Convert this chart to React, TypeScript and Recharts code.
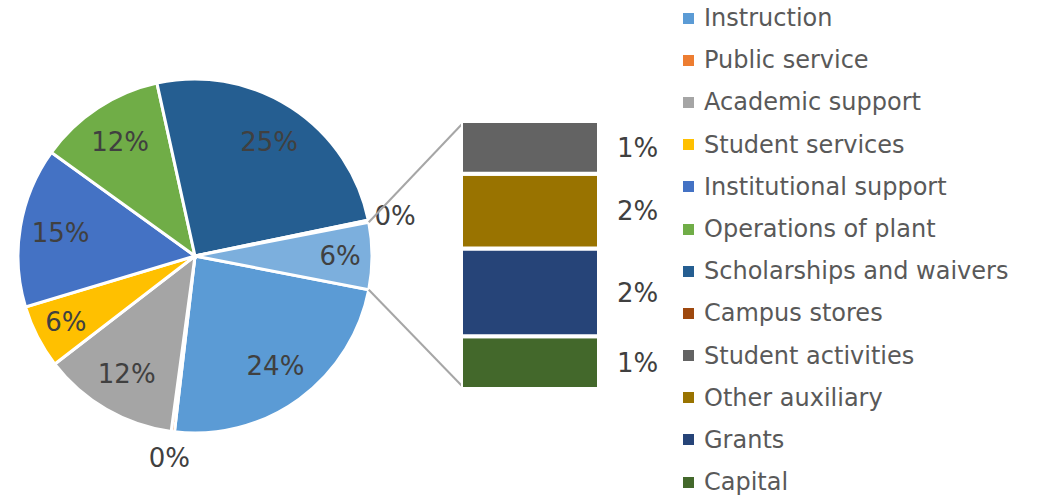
import { PieChart, Pie, Cell, BarChart, Bar, XAxis, YAxis, LabelList, Legend } from "recharts";

// pie slices (clockwise, starting just below 3 o'clock)
const pieCategories = [
  "Instruction",
  "Public service",
  "Academic support",
  "Student services",
  "Institutional support",
  "Operations of plant",
  "Scholarships and waivers",
  "Campus stores",
];
const pieValues = [23.8, 0.3, 12.4, 5.8, 14.6, 11.6, 25.2, 0.2];
const pieColors = ["#5B9BD5", "#ED7D31", "#A5A5A5", "#FFC000", "#4472C4", "#70AD47", "#255E91", "#9E480E"];

// broken out into the bar on the right (top to bottom)
const otherCategories = ["Student activities", "Other auxiliary", "Grants", "Capital"];
const otherValues = [1.2, 1.7, 2.0, 1.2];
const otherColors = ["#636363", "#997300", "#264478", "#43682B"];
const otherSliceColor = "#7CAFDD";

const RADIAN = Math.PI / 180;
const FONT = "'DejaVu Sans', sans-serif";

const otherTotal = otherValues.reduce((a, b) => a + b, 0);
const pieData = [
  ...pieCategories.map((name, i) => ({ name, value: pieValues[i], color: pieColors[i] })),
  { name: "Other", value: otherTotal, color: otherSliceColor },
];
const grandTotal = pieData.reduce((a, d) => a + d.value, 0);

const barRow: Record<string, any> = { name: "Other" };
otherCategories.forEach((c, i) => (barRow[c] = otherValues[i]));
const barData = [barRow];

// layout
const CX = 195;
const CY = 256;
const R = 177;
const BAR_LEFT = 461;
const BAR_W = 138;
const BAR_TOP = 121;
const BAR_BOTTOM = 109;

const halfAngle = (otherTotal / grandTotal) * 180;
const startAngle = -halfAngle;

const renderPieLabel = (props: any) => {
  const { cx, cy, midAngle, outerRadius, percent } = props;
  let r = outerRadius * 0.77;
  if (percent < 0.01) r = outerRadius + 27;
  else if (percent < 0.08) r = outerRadius * 0.82;
  const x = cx + r * Math.cos(-midAngle * RADIAN);
  const y = cy + r * Math.sin(-midAngle * RADIAN);
  return (
    <text x={x} y={y} textAnchor="middle" dominantBaseline="central" fill="#404040" fontSize={26} fontFamily={FONT}>
      {Math.round(percent * 100)}%
    </text>
  );
};

const legendItems = [
  ...pieCategories.map((name, i) => ({ name, color: pieColors[i] })),
  ...otherCategories.map((name, i) => ({ name, color: otherColors[i] })),
];

const renderLegend = () => (
  <div style={{ fontFamily: FONT, fontSize: 24, color: "#595959" }}>
    {legendItems.map((item) => (
      <div key={item.name} style={{ display: "flex", alignItems: "center", height: 42.2, whiteSpace: "nowrap" }}>
        <span style={{ width: 11, height: 11, background: item.color, marginRight: 10, display: "inline-block" }} />
        {item.name}
      </div>
    ))}
  </div>
);

export default function App() {
  const edgeX = CX + R * Math.cos(halfAngle * RADIAN);
  const edgeDy = R * Math.sin(halfAngle * RADIAN);
  const barX = BAR_LEFT + 2;
  return (
    <div style={{ position: "absolute", left: 0, top: 0, width: 1050, height: 498, background: "#fff", fontFamily: FONT }}>
      <PieChart width={1050} height={498} margin={{ top: 0, right: 0, bottom: 0, left: 0 }}>
        <Pie
          data={pieData}
          dataKey="value"
          nameKey="name"
          cx={CX}
          cy={CY}
          outerRadius={R}
          startAngle={startAngle}
          endAngle={startAngle - 360}
          stroke="#fff"
          strokeWidth={3}
          label={renderPieLabel}
          labelLine={false}
          isAnimationActive={false}
        >
          {pieData.map((d) => (
            <Cell key={d.name} fill={d.color} />
          ))}
        </Pie>
        <Legend
          content={renderLegend}
          wrapperStyle={{ position: "absolute", left: 683, top: -3, width: 360 }}
        />
      </PieChart>

      <svg width={1050} height={498} style={{ position: "absolute", left: 0, top: 0, pointerEvents: "none" }}>
        <line x1={edgeX} y1={CY - edgeDy} x2={barX} y2={BAR_TOP + 2} stroke="#A6A6A6" strokeWidth={2} />
        <line x1={edgeX} y1={CY + edgeDy} x2={barX} y2={498 - BAR_BOTTOM - 2} stroke="#A6A6A6" strokeWidth={2} />
      </svg>

      <div style={{ position: "absolute", left: BAR_LEFT, top: 0 }}>
        <BarChart
          width={BAR_W + 130}
          height={498}
          data={barData}
          margin={{ top: BAR_TOP, bottom: BAR_BOTTOM, left: 0, right: 130 }}
          barCategoryGap={0}
        >
          <XAxis dataKey="name" hide />
          <YAxis hide domain={[0, otherTotal]} />
          {[...otherCategories].reverse().map((c) => {
            const i = otherCategories.indexOf(c);
            return (
              <Bar key={c} dataKey={c} stackId="a" fill={otherColors[i]} stroke="#fff" strokeWidth={4} isAnimationActive={false}>
                <LabelList
                  dataKey={c}
                  position="right"
                  offset={18}
                  formatter={(v: any) => `${Math.round((Number(v) / grandTotal) * 100)}%`}
                  style={{ fill: "#404040", fontSize: 26, fontFamily: FONT }}
                />
              </Bar>
            );
          })}
        </BarChart>
      </div>
    </div>
  );
}
